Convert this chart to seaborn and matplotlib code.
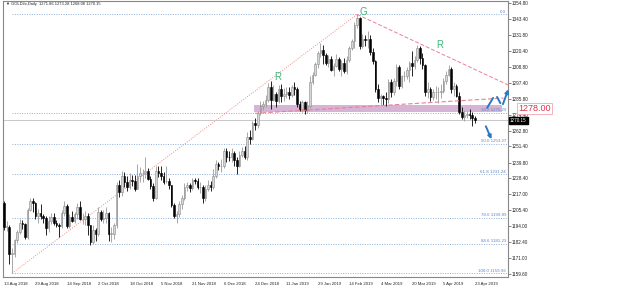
import numpy as np
import pandas as pd
import matplotlib
matplotlib.use("Agg")
import matplotlib.pyplot as plt
import seaborn as sns

# daily OHLC, 13 Aug 2018 .. 24 Apr 2019
opens = [1211.0, 1193.5, 1193.5, 1174.0, 1174.0, 1184.0, 1190.0, 1196.0, 1195.5, 1186.5,
         1206.0, 1212.5, 1210.5, 1201.0, 1203.5, 1201.5, 1200.0, 1192.5, 1197.5, 1200.5,
         1196.5, 1195.0, 1194.0, 1203.5, 1208.5, 1194.0, 1200.5, 1198.0, 1203.0, 1207.5,
         1199.0, 1199.5, 1201.0, 1194.5, 1182.5, 1191.5, 1188.5, 1204.5, 1199.5, 1200.0,
         1203.5, 1188.5, 1188.5, 1194.5, 1223.5, 1218.5, 1230.5, 1225.5, 1222.5, 1227.0,
         1226.5, 1221.0, 1230.0, 1232.0, 1232.5, 1233.5, 1228.0, 1223.0, 1214.5, 1233.5,
         1232.5, 1230.5, 1226.5, 1226.5, 1223.5, 1209.5, 1201.5, 1202.5, 1210.0, 1214.5,
         1222.0, 1223.5, 1221.5, 1227.0, 1226.5, 1222.0, 1222.5, 1214.5, 1221.0, 1224.0,
         1222.0, 1230.5, 1238.5, 1237.0, 1237.5, 1248.5, 1244.0, 1243.5, 1246.5, 1241.5,
         1237.5, 1245.5, 1248.5, 1243.5, 1258.5, 1256.5, 1268.5, 1267.0, 1275.5, 1280.5,
         1282.0, 1285.0, 1294.0, 1285.0, 1289.5, 1284.5, 1293.0, 1287.5, 1289.5, 1291.0,
         1288.5, 1294.0, 1292.5, 1282.0, 1278.5, 1283.5, 1277.5, 1280.5, 1298.0, 1303.0,
         1311.0, 1319.0, 1321.0, 1317.5, 1311.5, 1314.5, 1306.5, 1309.5, 1314.5, 1307.5,
         1311.5, 1306.0, 1313.5, 1322.5, 1327.5, 1339.0, 1344.0, 1324.0, 1329.0, 1328.0,
         1328.5, 1319.5, 1313.0, 1293.0, 1286.0, 1287.5, 1286.0, 1285.5, 1298.0, 1290.5,
         1298.5, 1309.0, 1295.0, 1302.0, 1302.5, 1306.5, 1311.5, 1309.5, 1313.5, 1322.0,
         1315.5, 1310.0, 1291.0, 1292.5, 1287.0, 1290.5, 1290.5, 1291.0, 1291.5, 1298.5,
         1303.0, 1307.0, 1293.0, 1295.0, 1288.0, 1276.0, 1273.0, 1274.0, 1275.0, 1274.0,
         1271.86]
highs = [1212.5, 1198.0, 1194.5, 1178.5, 1185.0, 1191.0, 1199.0, 1198.5, 1196.5, 1207.0,
         1214.5, 1214.0, 1211.5, 1206.5, 1210.0, 1202.5, 1201.0, 1201.5, 1203.5, 1203.5,
         1198.5, 1196.0, 1205.5, 1212.0, 1210.0, 1203.0, 1205.0, 1204.5, 1211.0, 1212.0,
         1203.5, 1205.0, 1203.5, 1195.0, 1195.0, 1192.5, 1207.5, 1205.5, 1206.0, 1207.5,
         1204.0, 1193.5, 1196.5, 1225.5, 1227.5, 1233.5, 1233.0, 1230.5, 1232.0, 1231.0,
         1231.0, 1239.0, 1236.5, 1235.0, 1243.5, 1236.0, 1230.0, 1225.0, 1237.0, 1237.5,
         1237.5, 1233.0, 1237.0, 1228.5, 1224.0, 1210.5, 1205.0, 1212.0, 1216.5, 1225.0,
         1226.0, 1225.0, 1228.5, 1228.5, 1228.5, 1226.0, 1224.0, 1224.0, 1227.0, 1226.5,
         1235.0, 1242.0, 1240.5, 1242.5, 1250.5, 1250.0, 1248.0, 1250.0, 1248.0, 1243.5,
         1248.5, 1251.0, 1252.0, 1262.0, 1263.5, 1270.0, 1272.0, 1277.0, 1284.0, 1284.5,
         1288.5, 1297.0, 1298.5, 1295.5, 1290.5, 1295.5, 1296.5, 1293.5, 1294.5, 1294.0,
         1295.5, 1297.5, 1294.0, 1284.0, 1285.0, 1284.0, 1284.0, 1302.5, 1305.0, 1312.5,
         1320.0, 1326.0, 1324.5, 1318.5, 1317.0, 1316.5, 1311.5, 1318.0, 1316.0, 1313.5,
         1315.0, 1316.5, 1323.5, 1329.0, 1341.0, 1346.57, 1345.0, 1332.5, 1331.5, 1334.5,
         1331.5, 1322.5, 1314.0, 1296.5, 1289.5, 1288.5, 1290.5, 1300.0, 1300.0, 1300.5,
         1311.0, 1310.0, 1303.0, 1306.0, 1309.0, 1313.0, 1320.5, 1316.5, 1324.5, 1324.0,
         1319.0, 1310.5, 1297.5, 1294.0, 1292.5, 1295.0, 1294.5, 1296.5, 1301.0, 1306.0,
         1310.0, 1309.0, 1297.5, 1296.5, 1290.5, 1279.5, 1277.5, 1277.0, 1278.5, 1276.0,
         1273.28]
lows = [1191.0, 1190.5, 1167.0, 1159.96, 1172.0, 1182.0, 1188.5, 1192.0, 1184.5, 1185.0,
        1205.0, 1204.5, 1199.0, 1196.0, 1199.0, 1196.0, 1187.5, 1190.0, 1195.5, 1194.5,
        1193.5, 1186.5, 1192.5, 1201.5, 1193.0, 1193.0, 1197.0, 1196.0, 1199.5, 1198.5,
        1195.5, 1195.0, 1187.5, 1180.5, 1181.0, 1183.0, 1187.0, 1197.5, 1196.5, 1196.0,
        1183.5, 1182.5, 1184.5, 1193.0, 1215.0, 1216.0, 1222.5, 1219.5, 1221.0, 1223.0,
        1219.5, 1220.5, 1226.0, 1226.0, 1228.5, 1227.5, 1221.0, 1212.5, 1213.5, 1229.5,
        1227.0, 1224.5, 1225.0, 1221.0, 1207.5, 1200.0, 1196.0, 1200.5, 1206.5, 1213.0,
        1219.0, 1218.5, 1220.0, 1224.5, 1220.5, 1218.0, 1211.0, 1212.5, 1219.5, 1219.0,
        1221.0, 1229.0, 1234.5, 1233.0, 1236.0, 1240.0, 1241.0, 1240.5, 1237.5, 1231.5,
        1236.5, 1243.5, 1242.5, 1242.0, 1253.5, 1256.0, 1263.0, 1264.5, 1274.0, 1277.5,
        1280.0, 1283.5, 1278.5, 1284.0, 1279.5, 1283.0, 1283.5, 1284.5, 1286.5, 1285.5,
        1287.0, 1288.5, 1280.0, 1277.0, 1276.0, 1275.0, 1275.5, 1279.0, 1296.5, 1302.0,
        1308.0, 1316.0, 1310.5, 1310.0, 1308.5, 1305.5, 1302.5, 1308.5, 1306.0, 1302.0,
        1304.0, 1303.5, 1312.5, 1321.0, 1322.5, 1337.0, 1321.5, 1322.0, 1323.5, 1322.5,
        1317.0, 1311.0, 1290.5, 1283.5, 1281.0, 1281.5, 1280.5, 1283.0, 1287.0, 1288.5,
        1295.0, 1292.5, 1293.5, 1298.5, 1300.0, 1297.5, 1302.5, 1307.5, 1312.0, 1311.0,
        1307.5, 1288.0, 1286.5, 1284.5, 1285.0, 1285.5, 1283.0, 1286.0, 1290.0, 1296.5,
        1302.0, 1290.0, 1288.0, 1287.0, 1274.5, 1271.0, 1269.5, 1272.0, 1271.0, 1266.0,
        1268.08]
closes = [1193.5, 1193.5, 1174.0, 1174.0, 1184.0, 1190.0, 1196.0, 1195.5, 1186.5, 1206.0,
          1212.5, 1210.5, 1201.0, 1203.5, 1201.5, 1200.0, 1192.5, 1197.5, 1200.5, 1196.5,
          1195.0, 1194.0, 1203.5, 1208.5, 1194.0, 1200.5, 1198.0, 1203.0, 1207.5, 1199.0,
          1199.5, 1201.0, 1194.5, 1182.5, 1191.5, 1188.5, 1204.5, 1199.5, 1200.0, 1203.5,
          1188.5, 1188.5, 1194.5, 1223.5, 1218.5, 1230.5, 1225.5, 1222.5, 1227.0, 1226.5,
          1221.0, 1230.0, 1232.0, 1232.5, 1233.5, 1228.0, 1223.0, 1214.5, 1233.5, 1232.5,
          1230.5, 1226.0, 1226.5, 1223.5, 1209.5, 1201.5, 1202.5, 1210.0, 1214.5, 1222.0,
          1223.5, 1221.5, 1227.0, 1226.5, 1222.0, 1222.5, 1214.5, 1221.0, 1224.0, 1222.0,
          1230.5, 1238.5, 1237.0, 1237.5, 1248.5, 1244.0, 1243.5, 1246.5, 1241.5, 1237.5,
          1245.5, 1248.5, 1243.5, 1258.5, 1256.5, 1268.5, 1267.0, 1275.5, 1280.5, 1282.0,
          1285.0, 1294.0, 1285.0, 1289.5, 1284.5, 1293.0, 1287.5, 1289.5, 1291.0, 1288.5,
          1294.0, 1292.5, 1282.0, 1278.5, 1283.5, 1277.5, 1280.5, 1298.0, 1303.0, 1311.0,
          1319.0, 1321.0, 1317.5, 1311.5, 1314.5, 1306.5, 1309.5, 1314.5, 1307.5, 1311.5,
          1306.0, 1313.5, 1322.5, 1327.5, 1339.0, 1344.0, 1324.0, 1329.0, 1328.0, 1328.5,
          1319.5, 1313.0, 1293.0, 1286.0, 1287.5, 1286.0, 1285.5, 1298.0, 1290.5, 1298.5,
          1309.0, 1295.0, 1302.0, 1302.5, 1306.5, 1311.5, 1309.5, 1313.5, 1322.0, 1315.5,
          1310.0, 1291.0, 1292.5, 1287.0, 1290.5, 1290.5, 1291.0, 1291.5, 1298.5, 1303.0,
          1307.0, 1293.0, 1295.0, 1288.0, 1276.0, 1273.0, 1274.0, 1275.0, 1274.0, 1271.86,
          1270.15]

xtick_labels = ["13 Aug 2018", "29 Aug 2018", "14 Sep 2018", "2 Oct 2018", "18 Oct 2018",
                "5 Nov 2018", "21 Nov 2018", "6 Dec 2018", "24 Dec 2018", "11 Jan 2019",
                "29 Jan 2019", "14 Feb 2019", "4 Mar 2019", "20 Mar 2019", "5 Apr 2019",
                "23 Apr 2019"]
ytick_vals = [1354.80, 1343.40, 1331.80, 1320.40, 1308.80, 1297.40, 1285.80, 1274.40,
              1262.80, 1251.40, 1239.80, 1228.40, 1217.00, 1205.40, 1194.00, 1182.40,
              1171.00, 1159.60]

# fibonacci retracement 1159.96 (16 Aug) -> 1346.57 (20 Feb)
fib_levels = ["0.0", "38.2", "50.0", "61.8", "78.6", "88.6", "100.0"]
fib_prices = [1346.57, 1275.29, 1253.27, 1231.24, 1199.89, 1181.23, 1159.96]
fib_start, fib_end = 3, 135

# drawn objects
zone_x = [95.6, 190.4]
zone_y = [1276.3, 1281.3]
neck_x = [96, 191]
neck_y = [1275.3, 1286.3]
down_x = [135, 193]
down_y = [1346.57, 1295.5]
bid = 1270.15
target = 1278.00

sns.set_style("white")
plt.rcParams["font.family"] = ["Liberation Sans", "DejaVu Sans"]

df = pd.DataFrame({"o": opens, "h": highs, "l": lows, "c": closes})
df["i"] = np.arange(len(df))
df["bull"] = df["c"] >= df["o"]

fig = plt.figure(figsize=(6.25, 2.89), dpi=100)
ax = fig.add_axes([3 / 625, 12 / 289, 505 / 625, 276 / 289])

# fibo
for lvl, p in zip(fib_levels, fib_prices):
    ax.plot([fib_start, 192.5], [p, p], color="#8fb0d8", lw=0.7, ls=(0, (1, 1.5)), zorder=1)
    txt = lvl if lvl == "0.0" else f"{lvl} {p:.2f}"
    ax.text(192.0, p + 0.6, txt, ha="right", va="bottom", fontsize=3.2, color="#5f86c0")
sns.lineplot(x=[fib_start, fib_end], y=[fib_prices[-1], fib_prices[0]], ax=ax,
             color="#f08a8a", lw=0.7, ls=(0, (1, 1.5)), zorder=1)

# bid line
ax.axhline(bid, color="#c8c8c8", lw=0.7, zorder=1)

# zone
ax.fill_between(zone_x, zone_y[0], zone_y[1], color="#cca2cc", alpha=0.8, lw=0, zorder=1.5)

# candles
wick_col = np.where(df["bull"], "#9a9a9a", "#000000")
ax.vlines(df["i"], df["l"], df["h"], colors=wick_col, lw=0.6, zorder=2)
body_lo = np.minimum(df["o"], df["c"])
body_h = np.maximum((df["c"] - df["o"]).abs(), 0.4)
ax.bar(df["i"], body_h, bottom=body_lo, width=0.62,
       color=np.where(df["bull"], "#d6d6d6", "#000000"),
       edgecolor=np.where(df["bull"], "#8a8a8a", "#000000"), lw=0.4, zorder=3)

# trend lines
sns.lineplot(x=neck_x, y=neck_y, ax=ax, color="#ec7f95", lw=0.8, ls=(0, (4, 2)), zorder=4)
sns.lineplot(x=down_x, y=down_y, ax=ax, color="#ec7f95", lw=0.7, ls=(0, (4, 2)), zorder=4)
for ln in ax.lines[-1:]:
    ln.set_clip_on(False)

# labels
ax.text(104.5, 1301.5, "R", color="#3cb878", fontsize=7, ha="center", va="center")
ax.text(137.5, 1348.3, "G", color="#3cb878", fontsize=7, ha="center", va="center")
ax.text(166.5, 1324.6, "R", color="#3cb878", fontsize=7, ha="center", va="center")

# arrows
blue = "#2a78c8"
ax.plot([184.7, 187.0], [1279.2, 1286.4], color=blue, lw=1.4, clip_on=False, zorder=5)
ax.plot([188.5, 189.8], [1287.1, 1282.6], color=blue, lw=1.4, clip_on=False, zorder=5)
ax.annotate("", xy=(193.2, 1294.5), xytext=(190.4, 1280.0), annotation_clip=False,
            arrowprops=dict(arrowstyle="-|>", color=blue, lw=1.4, mutation_scale=5))
ax.annotate("", xy=(186.8, 1254.8), xytext=(183.8, 1267.8), annotation_clip=False,
            arrowprops=dict(arrowstyle="-|>", color=blue, lw=1.4, mutation_scale=5))

# axes
ax.set_xlim(-0.4, 192.7)
ax.set_ylim(1157.4, 1356.2)
ax.set_xticks(np.arange(0, 12 * len(xtick_labels), 12))
ax.set_xticklabels(xtick_labels, fontsize=3.1, ha="left", color="#222222")
ax.yaxis.tick_right()
ax.set_yticks(ytick_vals)
ax.set_yticklabels([f"{v:.2f}" for v in ytick_vals], fontsize=3.3, color="#222222")
ax.tick_params(axis="both", length=2, width=0.5, color="#555555", pad=1)
ax.tick_params(axis="x", pad=1.8)
for s in ax.spines.values():
    s.set_color("#888888")
    s.set_linewidth(0.8)

ax.text(0.006, 0.995, "▼ GOLD#x,Daily  1271.86 1273.28 1268.08 1270.15",
        transform=ax.transAxes, fontsize=2.9, va="top", ha="left", color="#222222")

# price boxes on the axis
tr = ax.get_yaxis_transform()
ax.text(1.004, bid, f"{bid:.2f}", transform=tr, fontsize=3.3, color="white",
        va="center", ha="left",
        bbox=dict(boxstyle="square,pad=0.2", fc="black", ec="black"))
ax.text(1.02, target + 0.5, f"{target:.2f}", transform=tr, fontsize=6.5, color="#e0344a",
        va="center", ha="left",
        bbox=dict(boxstyle="square,pad=0.1", fc="white", ec="#f2a6b4", lw=0.6))

fig.savefig("out.png", dpi=100, facecolor="white")
